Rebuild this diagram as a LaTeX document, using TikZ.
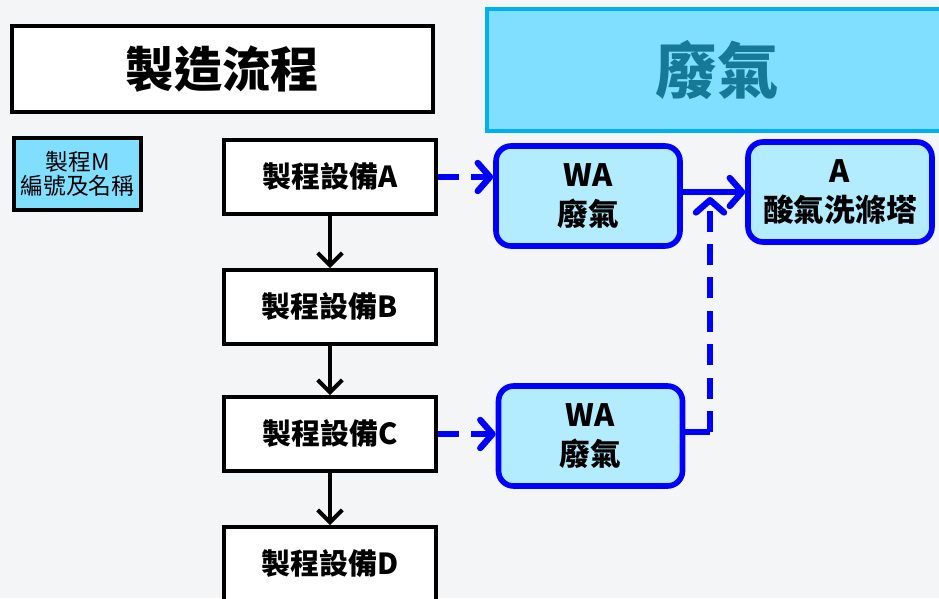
\documentclass[tikz,border=0pt]{standalone}
\usepackage{fontspec}
\setmainfont{Noto Sans CJK TC}
\usetikzlibrary{arrows.meta, positioning}
\definecolor{bggray}{RGB}{244,245,247}
\definecolor{wastefill}{RGB}{128,222,255}
\definecolor{wasteedge}{RGB}{0,176,240}
\definecolor{wastetext}{RGB}{22,122,150}
\definecolor{gasfill}{RGB}{179,236,255}
\definecolor{flowblue}{RGB}{0,0,255}
\tikzset{
  headbox/.style={draw=black, line width=2.2pt, fill=white, minimum width=8.42cm, minimum height=1.72cm, font=\bfseries\fontsize{27.5}{30}\selectfont},
  stepbox/.style={draw=black, line width=2.2pt, fill=white, minimum width=4.24cm, minimum height=1.48cm, font=\bfseries\fontsize{16.5}{19}\selectfont},
  gasbox/.style={draw=flowblue, line width=3.2pt, fill=gasfill, rounded corners=0.3cm, minimum width=3.68cm, minimum height=2cm, inner sep=1pt, align=center, font=\bfseries\fontsize{17.5}{22.5}\selectfont},
  flow/.style={line width=2.3pt, -{Straight Barb[length=7pt,width=14pt]}},
  gasflow/.style={draw=flowblue, line width=3.6pt, -{Straight Barb[length=7pt,width=16pt,round]}},
  gasdash/.style={gasflow, dash pattern=on 12pt off 7pt}
}

\begin{document}
\begin{tikzpicture}[x=0.02cm, y=-0.02cm]

% Background
\fill[bggray] (0,0) rectangle (939,598);
\useasboundingbox (0,0) rectangle (939,598);

% Draw headers
\node[headbox] (flowhead) at (222.5,69) {製造流程};
\node[draw=wasteedge, line width=2.2pt, fill=wastefill, minimum width=9.2cm, minimum height=2.44cm, text=wastetext, font=\bfseries\fontsize{35}{38}\selectfont] (gashead) at (717,70) {廢氣};

% Draw legend
\node[draw=black, line width=2pt, fill=wastefill, minimum width=2.54cm, minimum height=1.44cm, inner sep=0pt, align=center, font=\fontsize{13}{14}\selectfont] (legend) at (77.5,174) {製程M\\編號及名稱};

% Draw process steps
\node[stepbox] (stepA) at (330,177) {製程設備A};
\node[stepbox] (stepB) at (330,307) {製程設備B};
\node[stepbox] (stepC) at (330,434) {製程設備C};
\node[stepbox] (stepD) at (330,564) {製程設備D};

\draw[flow] (stepA) -- (stepB);
\draw[flow] (stepB) -- (stepC);
\draw[flow] (stepC) -- (stepD);

% Draw waste gas boxes
\node[gasbox] (gasA) at (588,196) {WA\\廢氣};
\node[gasbox] (gasC) at (590.5,436) {WA\\廢氣};
\node[gasbox] (tower) at (840,192) {A\\酸氣洗滌塔};

% Draw gas arrows
\draw[gasdash] (stepA.east) -- (stepA.east -| gasA.west);
\draw[gasdash] (stepC.east) -- (stepC.east -| gasC.west);
\draw[gasflow] (tower.west -| gasA.east) -- (tower.west);

\coordinate (bend) at (710,432);
\coordinate (join) at (710,197);
\draw[draw=flowblue, line width=3.6pt] (gasC.east |- bend) -- (bend);
\draw[gasdash] (bend) -- (join);

\end{tikzpicture}
\end{document}
